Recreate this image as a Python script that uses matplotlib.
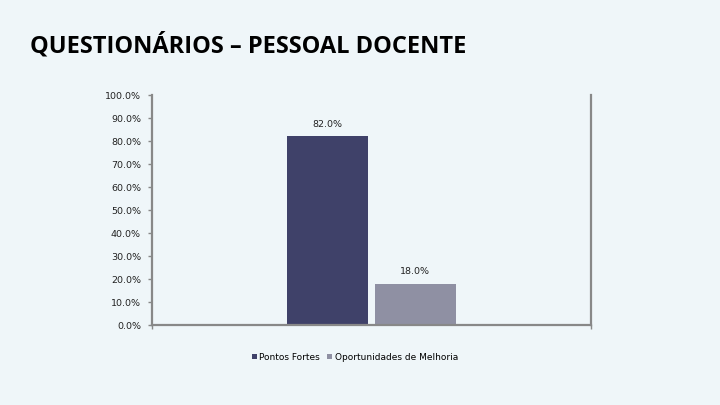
import matplotlib.pyplot as plt
from matplotlib.ticker import FuncFormatter

series = ['Pontos Fortes', 'Oportunidades de Melhoria']
values = [82.0, 18.0]
colors = ['#3f4169', '#8f90a3']
yticks = [0, 10, 20, 30, 40, 50, 60, 70, 80, 90, 100]

bg = '#eff6f9'
axis_col = '#888888'

fig = plt.figure(figsize=(7.2, 4.05), dpi=100, facecolor=bg)
ax = fig.add_axes([0.2111, 0.1975, 0.6097, 0.5679], facecolor=bg)

offsets = [-0.1, 0.1]
for name, v, c, off in zip(series, values, colors, offsets):
    ax.bar(off, v, width=0.184, color=c, label=name, zorder=2)
    ax.text(off, v + 3.2, f'{v:.1f}%', ha='center', va='bottom',
            fontsize=6.8, color='#222222', family='DejaVu Sans')

ax.set_xlim(-0.5, 0.5)
ax.set_ylim(0, 100)
ax.set_yticks(yticks)
ax.yaxis.set_major_formatter(FuncFormatter(lambda v, p: f'{v:.1f}%'))
ax.tick_params(axis='y', labelsize=6.8, length=3, width=1, color=axis_col,
               labelcolor='#222222', pad=5)
ax.set_xticks([-0.5, 0.5])
ax.set_xticklabels([])
ax.tick_params(axis='x', length=3, width=1, color=axis_col)

for s in ['left', 'right', 'bottom']:
    ax.spines[s].set_color(axis_col)
    ax.spines[s].set_linewidth(1.6)
ax.spines['top'].set_visible(False)

fig.text(0.042, 0.888, 'QUESTIONÁRIOS – PESSOAL DOCENTE', fontsize=17,
         fontweight='bold', family='Open Sans', color='black', va='center')

leg = fig.legend(loc='center', bbox_to_anchor=(0.493, 0.118), ncol=2,
                 frameon=False, fontsize=6.5, handlelength=0.5,
                 handleheight=0.5, handletextpad=0.3, columnspacing=0.8)

fig.savefig('out.png', dpi=100, facecolor=bg)
